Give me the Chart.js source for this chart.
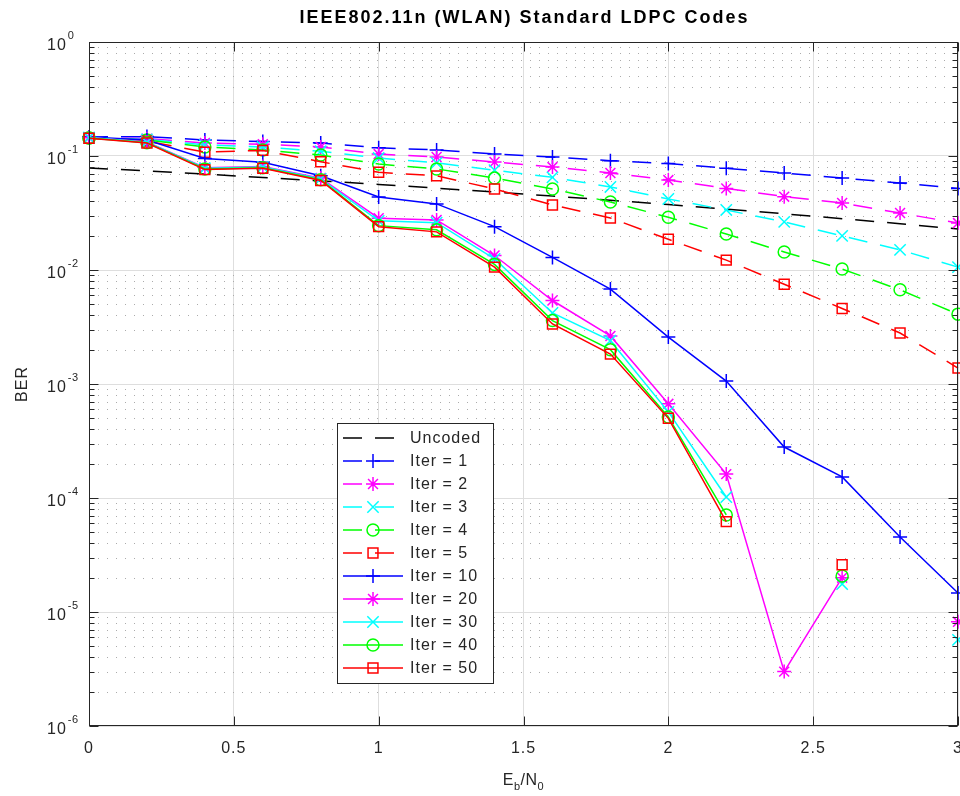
<!DOCTYPE html>
<html>
<head>
<meta charset="utf-8">
<script src="https://cdn.jsdelivr.net/npm/chart.js@4.4.1/dist/chart.umd.min.js"></script>
<style>
  html, body { margin: 0; padding: 0; background: #fff; }
  canvas { display: block; }
</style>
</head>
<body>
<canvas id="c" width="960" height="796" style="width:960px;height:796px"></canvas>
<script>
// ---------------- data ----------------
const ebN0 = [0, 0.2, 0.4, 0.6, 0.8, 1.0, 1.2, 1.4, 1.6, 1.8, 2.0, 2.2, 2.4, 2.6, 2.8, 3.0];

const berUncoded = [0.0786, 0.0739, 0.0693, 0.0648, 0.0605, 0.0563, 0.0522, 0.0483, 0.0445, 0.0409, 0.0375, 0.0342, 0.0311, 0.0282, 0.0255, 0.0229];

const berIter1 = [0.147, 0.148, 0.138, 0.134, 0.130, 0.118, 0.113, 0.104, 0.098, 0.091, 0.086, 0.078, 0.071, 0.064, 0.058, 0.052];
const berIter2 = [0.145, 0.142, 0.130, 0.127, 0.120, 0.104, 0.098, 0.0886, 0.080, 0.071, 0.0615, 0.052, 0.044, 0.0387, 0.0316, 0.0258];
const berIter3 = [0.145, 0.140, 0.125, 0.120, 0.110, 0.096, 0.087, 0.075, 0.065, 0.0535, 0.042, 0.0336, 0.0264, 0.0199, 0.015, 0.0106];
const berIter4 = [0.144, 0.138, 0.120, 0.113, 0.102, 0.085, 0.077, 0.064, 0.0514, 0.0395, 0.029, 0.0207, 0.0144, 0.0102, 0.0067, 0.0041];
const berIter5 = [0.143, 0.135, 0.108, 0.112, 0.089, 0.072, 0.067, 0.0514, 0.0372, 0.0286, 0.0186, 0.0122, 0.0075, 0.0046, 0.0028, 0.00138];

const berIter10 = [0.147, 0.138, 0.095, 0.088, 0.067, 0.0437, 0.038, 0.024, 0.0129, 0.0068, 0.00258, 0.00106, 0.00028, 0.000153, 0.0000455, 0.0000147];
const berIter20 = [0.145, 0.133, 0.079, 0.081, 0.064, 0.0285, 0.0275, 0.0134, 0.0054, 0.00264, 0.00067, 0.000162, 0.0000030, 0.0000200, null, 0.0000082];
const berIter30 = [0.145, 0.132, 0.078, 0.080, 0.063, 0.027, 0.026, 0.0125, 0.0042, 0.0024, 0.00057, 0.000102, null, 0.0000176, null, 0.0000057];
const berIter40 = [0.144, 0.131, 0.077, 0.079, 0.062, 0.0245, 0.0225, 0.0112, 0.0036, 0.0020, 0.000514, 0.000071, null, 0.0000207, null, null];
const berIter50 = [0.143, 0.130, 0.076, 0.078, 0.061, 0.024, 0.0216, 0.0106, 0.00336, 0.00183, 0.00050, 0.000062, null, 0.000026, null, null];

const seriesNames = ['Uncoded', 'Iter = 1', 'Iter = 2', 'Iter = 3', 'Iter = 4', 'Iter = 5',
                     'Iter = 10', 'Iter = 20', 'Iter = 30', 'Iter = 40', 'Iter = 50'];
const seriesValues = [berUncoded, berIter1, berIter2, berIter3, berIter4, berIter5,
                      berIter10, berIter20, berIter30, berIter40, berIter50];

const xTickValues = [0, 0.5, 1, 1.5, 2, 2.5, 3];
const xTickLabels = ['0', '0.5', '1', '1.5', '2', '2.5', '3'];
const yTickExponents = [0, -1, -2, -3, -4, -5, -6];
const yMinorMultipliers = [2, 3, 4, 5, 6, 7, 8, 9];

const titleText = 'IEEE802.11n (WLAN) Standard LDPC Codes';
const yAxisTitle = 'BER';

// ---------------- styles ----------------
const FONT = '"Liberation Sans", Arial, Helvetica, sans-serif';
const AXIS_COLOR = '#262626';
const DASH = [19, 13];
const styles = [
  { color: '#000000', dash: DASH, marker: false,      radius: 0 },
  { color: '#0000ff', dash: DASH, marker: 'cross',    radius: 7 },
  { color: '#ff00ff', dash: DASH, marker: 'star',     radius: 7 },
  { color: '#00ffff', dash: DASH, marker: 'crossRot', radius: 8 },
  { color: '#00ff00', dash: DASH, marker: 'circle',   radius: 6 },
  { color: '#ff0000', dash: DASH, marker: 'rect',     radius: 7 },
  { color: '#0000ff', dash: [],   marker: 'cross',    radius: 7 },
  { color: '#ff00ff', dash: [],   marker: 'star',     radius: 7 },
  { color: '#00ffff', dash: [],   marker: 'crossRot', radius: 8 },
  { color: '#00ff00', dash: [],   marker: 'circle',   radius: 6 },
  { color: '#ff0000', dash: [],   marker: 'rect',     radius: 7 }
];

const datasets = seriesValues.map((vals, i) => ({
  label: seriesNames[i],
  data: ebN0.map((x, j) => ({ x: x, y: vals[j] })),
  borderColor: styles[i].color,
  backgroundColor: 'rgba(0,0,0,0)',
  borderWidth: 1.5,
  borderDash: styles[i].dash,
  pointStyle: styles[i].marker || 'circle',
  pointRadius: styles[i].marker ? styles[i].radius : 0,
  pointHoverRadius: styles[i].marker ? styles[i].radius : 0,
  pointBorderColor: styles[i].color,
  pointBackgroundColor: 'rgba(0,0,0,0)',
  pointBorderWidth: 1.5,
  tension: 0,
  spanGaps: false,
  fill: false,
  clip: false,
  order: seriesValues.length - i
}));

// ---------------- helpers ----------------
function drawMarker(ctx, style, x, y, r) {
  ctx.beginPath();
  if (style === 'cross' || style === 'star') {
    ctx.moveTo(x - r, y); ctx.lineTo(x + r, y);
    ctx.moveTo(x, y - r); ctx.lineTo(x, y + r);
  }
  if (style === 'crossRot' || style === 'star') {
    const d = r * Math.SQRT1_2;
    ctx.moveTo(x - d, y - d); ctx.lineTo(x + d, y + d);
    ctx.moveTo(x - d, y + d); ctx.lineTo(x + d, y - d);
  }
  if (style === 'circle') { ctx.arc(x, y, r, 0, Math.PI * 2); }
  if (style === 'rect') { const s = r * Math.SQRT1_2; ctx.rect(x - s, y - s, 2 * s, 2 * s); }
  ctx.stroke();
}

function isDecade(v) {
  const e = Math.log10(v);
  return Math.abs(e - Math.round(e)) < 1e-6;
}

const decor = {
  id: 'decor',
  beforeDatasetsDraw(chart) {
    const { ctx, chartArea: a, scales } = chart;
    const ys = scales.y;
    ctx.save();
    ctx.strokeStyle = '#ababab';
    ctx.lineWidth = 1;
    ctx.setLineDash([1, 8]);
    for (let k = 1; k < yTickExponents.length; k++) {
      const e = yTickExponents[k];
      for (const m of yMinorMultipliers) {
        const py = Math.round(ys.getPixelForValue(m * Math.pow(10, e))) + 0.5;
        ctx.beginPath(); ctx.moveTo(a.left, py); ctx.lineTo(a.right, py); ctx.stroke();
      }
    }
    ctx.restore();
  },
  afterDraw(chart) {
    const { ctx, chartArea: a, scales } = chart;
    const xs = scales.x, ys = scales.y;
    ctx.save();
    // axes box
    ctx.strokeStyle = AXIS_COLOR;
    ctx.lineWidth = 1;
    ctx.setLineDash([]);
    const L = Math.round(a.left) + 0.5, R = Math.round(a.right) - 0.5;
    const T = Math.round(a.top) + 0.5, B = Math.round(a.bottom) - 0.5;
    ctx.strokeRect(L, T, R - L, B - T);
    // x ticks (inward, bottom and top)
    ctx.beginPath();
    for (const v of xTickValues) {
      const px = Math.round(xs.getPixelForValue(v)) + 0.5;
      ctx.moveTo(px, B); ctx.lineTo(px, B - 9);
      ctx.moveTo(px, T); ctx.lineTo(px, T + 9);
    }
    // y ticks (inward, left and right)
    for (let k = 0; k < yTickExponents.length; k++) {
      const e = yTickExponents[k];
      const py = Math.round(ys.getPixelForValue(Math.pow(10, e))) + 0.5;
      ctx.moveTo(L, py); ctx.lineTo(L + 9, py);
      ctx.moveTo(R, py); ctx.lineTo(R - 9, py);
      if (k > 0) {
        for (const m of yMinorMultipliers) {
          const pm = Math.round(ys.getPixelForValue(m * Math.pow(10, e))) + 0.5;
          ctx.moveTo(L, pm); ctx.lineTo(L + 5, pm);
          ctx.moveTo(R, pm); ctx.lineTo(R - 5, pm);
        }
      }
    }
    ctx.stroke();

    // x tick labels
    ctx.fillStyle = AXIS_COLOR;
    ctx.letterSpacing = '1px';
    ctx.font = '16px ' + FONT;
    ctx.textAlign = 'center';
    ctx.textBaseline = 'alphabetic';
    xTickValues.forEach((v, i) => {
      ctx.fillText(xTickLabels[i], xs.getPixelForValue(v), 753);
    });

    // y tick labels 10^k
    ctx.textAlign = 'left';
    yTickExponents.forEach(e => {
      const py = ys.getPixelForValue(Math.pow(10, e));
      ctx.font = '16px ' + FONT;
      ctx.letterSpacing = '1px';
      ctx.fillText('10', 47, py + 8);
      const w = ctx.measureText('10').width;
      ctx.font = '11px ' + FONT;
      ctx.letterSpacing = '0.5px';
      ctx.fillText(e === 0 ? '0' : '-' + Math.abs(e), 47 + w + 1, py - 3);
    });

    // x axis title  E_b/N_0
    ctx.letterSpacing = '0.5px';
    const parts = [['E', 16, 0], ['b', 11, 5], ['/N', 16, 0], ['0', 11, 5]];
    let total = 0;
    parts.forEach(p => { ctx.font = p[1] + 'px ' + FONT; total += ctx.measureText(p[0]).width; });
    let cx = (a.left + a.right) / 2 - total / 2;
    parts.forEach(p => {
      ctx.font = p[1] + 'px ' + FONT;
      ctx.fillText(p[0], cx, 785 + p[2]);
      cx += ctx.measureText(p[0]).width;
    });

    // y axis title
    ctx.save();
    ctx.translate(23, (a.top + a.bottom) / 2);
    ctx.rotate(-Math.PI / 2);
    ctx.font = '16px ' + FONT;
    ctx.letterSpacing = '1px';
    ctx.textAlign = 'center';
    ctx.textBaseline = 'middle';
    ctx.fillText(yAxisTitle, 0, 0);
    ctx.restore();

    // title
    ctx.font = 'bold 18px ' + FONT;
    ctx.letterSpacing = '2px';
    ctx.fillStyle = '#000';
    ctx.textAlign = 'center';
    ctx.textBaseline = 'alphabetic';
    ctx.fillText(titleText, (a.left + a.right) / 2 + 1, 23);

    // legend
    const bx = 337.5, by = 423.5, bw = 156, bh = 260;
    ctx.fillStyle = '#ffffff';
    ctx.fillRect(bx, by, bw, bh);
    ctx.strokeStyle = AXIS_COLOR;
    ctx.lineWidth = 1;
    ctx.setLineDash([]);
    ctx.strokeRect(bx, by, bw, bh);
    seriesNames.forEach((name, i) => {
      const st = styles[i];
      const ly = 438 + i * 23;
      ctx.strokeStyle = st.color;
      ctx.lineWidth = 1.5;
      ctx.setLineDash(st.dash);
      ctx.beginPath();
      ctx.moveTo(343, ly);
      ctx.lineTo(st.dash.length && st.marker ? 395 : 403, ly);
      ctx.stroke();
      ctx.setLineDash([]);
      if (st.marker) drawMarker(ctx, st.marker, 373, ly, st.radius);
      ctx.fillStyle = AXIS_COLOR;
      ctx.font = '16px ' + FONT;
      ctx.letterSpacing = '1px';
      ctx.textAlign = 'left';
      ctx.textBaseline = 'middle';
      ctx.fillText(name, 410, ly + 1);
    });
    ctx.restore();
  }
};

new Chart(document.getElementById('c').getContext('2d'), {
  type: 'line',
  data: { datasets: datasets },
  options: {
    responsive: false,
    animation: false,
    events: [],
    layout: { padding: { top: 42, right: 2, left: 0, bottom: 0 }, autoPadding: false },
    plugins: {
      legend: { display: false },
      title: { display: false },
      tooltip: { enabled: false }
    },
    scales: {
      x: {
        type: 'linear',
        min: 0, max: 3,
        ticks: { display: false, stepSize: 0.5 },
        grid: { color: '#dedede', lineWidth: 1, drawTicks: false },
        border: { display: false },
        afterFit: s => { s.height = 70; s.paddingLeft = 0; s.paddingRight = 0; }
      },
      y: {
        type: 'logarithmic',
        min: 1e-6, max: 1,
        ticks: { display: false },
        grid: {
          color: c => (c.tick && isDecade(c.tick.value)) ? '#dedede' : 'rgba(0,0,0,0)',
          lineWidth: 1,
          drawTicks: false
        },
        border: { display: false },
        afterFit: s => { s.width = 89; s.paddingTop = 0; s.paddingBottom = 0; }
      }
    }
  },
  plugins: [decor]
});
</script>
</body>
</html>
